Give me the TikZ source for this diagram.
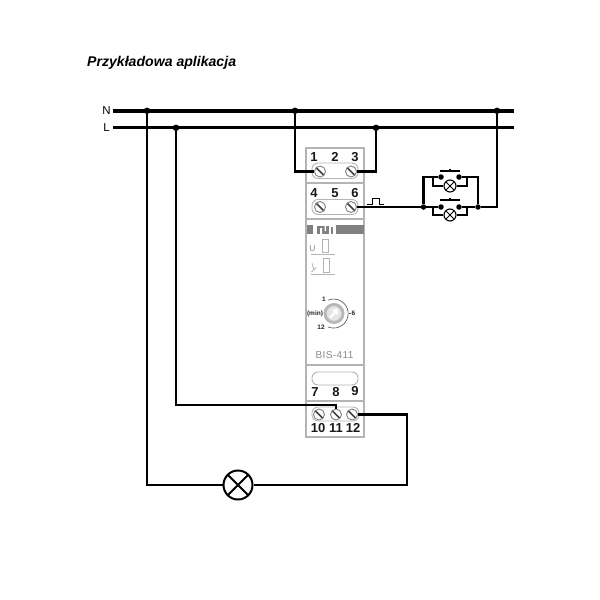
\documentclass[tikz,border=0pt]{standalone}
\usepackage{fontspec}
\setmainfont{Liberation Sans}
\definecolor{devgray}{HTML}{B4B4B4}
\definecolor{bargray}{HTML}{808080}
\definecolor{txtgray}{HTML}{8A8A8A}
\tikzset{
  wire/.style={line width=2.1pt,black},
  thin wire/.style={line width=1.2pt,black},
  dot/.style={circle,fill=black,inner sep=0pt,minimum size=6.5pt},
  sdot/.style={circle,fill=black,inner sep=0pt,minimum size=5.5pt},
  devline/.style={draw=devgray,line width=1.1pt},
  cover/.style={draw=devgray,line width=.9pt,rounded corners=6pt},
  num/.style={font=\bfseries\fontsize{13}{14}\selectfont,inner sep=0pt,text=black!90},
  screw/.style={circle,draw=bargray,fill=white,line width=.9pt,inner sep=0pt,minimum size=11pt,
    path picture={\draw[black!75,line width=1.5pt] ([shift={(-3.8pt,3.8pt)}]path picture bounding box.center) -- ([shift={(3.8pt,-3.8pt)}]path picture bounding box.center);}},
  lamp/.style={circle,draw=black,fill=white,inner sep=0pt,
    path picture={\draw[black,line width=\pgfkeysvalueof{/tikz/lampx}]
      (path picture bounding box.north west) -- (path picture bounding box.south east)
      (path picture bounding box.north east) -- (path picture bounding box.south west);}},
  lampx/.initial=1pt,
  biglamp/.style={lamp,lampx=2pt,line width=2pt,minimum size=29pt},
  minilamp/.style={lamp,lampx=1pt,line width=1.1pt,minimum size=12pt},
  gtxt/.style={text=txtgray,inner sep=0pt},
  dial/.style={font=\bfseries\fontsize{6.5}{7}\selectfont,inner sep=0pt,text=black!85},
}
\begin{document}
\begin{tikzpicture}[x=1pt,y=-1pt]
\useasboundingbox (0,0) rectangle (600,600);
\fill[white] (0,0) rectangle (600,600);

% title and bus labels
\node[anchor=west,inner sep=0pt,font=\bfseries\itshape\fontsize{14.1}{15}\selectfont] (title) at (87,62.5) {Przykładowa aplikacja};
\node[inner sep=0pt,font=\fontsize{11.5}{12}\selectfont] (labN) at (106.5,110.5) {N};
\node[inner sep=0pt,font=\fontsize{11.5}{12}\selectfont] (labL) at (106.5,128) {L};

% device body
\draw[devline] (306,148) rectangle (364,437);
\foreach \yy in {183,219,365,401} \draw[devline] (306,\yy) -- (364,\yy);
\draw[cover] (312,163) rectangle (358,178.5);
\draw[cover] (312,199.5) rectangle (358,214.5);
\draw[cover] (312,372) rectangle (358,385);
\draw[cover] (312,407) rectangle (359,421);

% grey bar with logo
\fill[bargray] (306.5,225) rectangle (312.5,234);
\fill[bargray] (317,226) rectangle (329,234);
\fill[white] (320,228) rectangle (322,234) (324.5,226) rectangle (326,231);
\fill[bargray] (331,227) rectangle (333,234);
\fill[bargray] (336,225) rectangle (363.5,234);

% indicators
\node[gtxt,font=\fontsize{8.5}{9}\selectfont] (labU) at (312.5,249) {U};
\draw[devgray,line width=.8pt] (322.5,239) rectangle (328.5,252);
\draw[devgray,line width=1pt] (311,254.5) -- (335,254.5);
\draw[devgray,line width=.8pt] (323,258) rectangle (329.5,272);
\draw[devgray,line width=.8pt] (312,263) -- (313.5,269) (311.5,272) -- (316,267.5);
\draw[devgray,line width=1pt] (311,274.5) -- (335,274.5);

% dial
\node[circle,draw=black!28,fill=black!10,line width=3pt,inner sep=0pt,minimum size=18pt] (knob) at (334,313.5) {};
\fill[white] (332,309.5) -- (338,309) -- (337.5,315) -- (335.5,313.5) -- (331,318) -- (329.5,316.5) -- (334,312) -- cycle;
\draw[black!70,line width=.6pt] (328,300.2) arc[start angle=-113,end angle=113,radius=14.5];
\node[dial] (d1) at (324,299) {1};
\node[dial] (d6) at (353.5,313.5) {6};
\node[dial] (d12) at (321,327.5) {12};
\node[dial] (dmin) at (315,313.5) {(min)};
\draw[black!70,line width=.6pt] (348.5,313.5) -- (351,313.5);
\node[gtxt,font=\fontsize{10}{11}\selectfont] (model) at (334.5,355) {\addfontfeature{LetterSpace=4}BIS-411};

% numbers
\node[num] (n1) at (314,157) {1};
\node[num] (n2) at (335,157) {2};
\node[num] (n3) at (355,157) {3};
\node[num] (n4) at (314,193) {4};
\node[num] (n5) at (335,193) {5};
\node[num] (n6) at (355,193) {6};
\node[num] (n7) at (315,392) {7};
\node[num] (n8) at (336,392) {8};
\node[num] (n9) at (355,391) {9};
\node[num] (n10) at (318,428) {10};
\node[num] (n11) at (336,428) {11};
\node[num] (n12) at (353,428) {12};

% screws
\node[screw] (s1) at (320,171.5) {};
\node[screw] (s3) at (351,171.5) {};
\node[screw] (s4) at (320,207) {};
\node[screw] (s6) at (351,207) {};
\node[screw] (s10) at (319,414.5) {};
\node[screw] (s11) at (336,414.5) {};
\node[screw] (s12) at (352,414.5) {};

% bus
\coordinate (Na) at (113,110.8);
\coordinate (Nb) at (514,110.8);
\coordinate (La) at (113,127.8);
\coordinate (Lb) at (514,127.8);
\draw[black,line width=3.4pt] (Na) -- (Nb);
\draw[black,line width=2.7pt] (La) -- (Lb);
\node[dot] (j1) at (147,110.8) {};
\node[dot] (j2) at (176,127.8) {};
\node[dot] (j3) at (295,110.8) {};
\node[dot] (j4) at (376,127.8) {};
\node[dot] (j5) at (497,110.8) {};

% load lamp and wiring
\node[biglamp] (big) at (238,485) {};
\draw[wire] (j1) |- (big);
\draw[wire] (big) -- (407,485) |- (s12);
\draw[wire] (j2) |- (336,405) -- (s11);
\draw[wire] (j3) |- (s1);
\draw[wire] (j4) |- (s3);

% pushbutton pair
\node[sdot] (bl) at (423.5,207) {};
\node[sdot] (br) at (478,207) {};
\node[sdot] (a1) at (441,177) {};
\node[sdot] (a2) at (459,177) {};
\node[sdot] (b1) at (441,207) {};
\node[sdot] (b2) at (459,207) {};
\node[minilamp] (la) at (450,186) {};
\node[minilamp] (lb) at (450,215) {};
\coordinate (tl) at (423.5,177);
\coordinate (tr) at (478,177);
\draw[wire] (s6) -- (bl);
\draw[wire] (bl) -- (tl) -- (a1);
\draw[wire] (a2) -- (tr) -- (br);
\draw[wire] (bl) -- (b1);
\draw[wire] (b2) -- (br) -- (497,207) -- (j5);
\draw[thin wire] (433,177) |- (la);
\draw[thin wire] (la) -- (467,186) -- (467,177);
\draw[thin wire] (433,207) |- (lb);
\draw[thin wire] (lb) -- (467,215) -- (467,207);
\draw[thin wire] (440,171) -- (459.5,171) (450,168.5) -- (450,171);
\draw[thin wire] (440,200) -- (459.5,200) (450,197.5) -- (450,200);

% pulse symbol
\draw[black,line width=.8pt] (367,204) -- (372,204) -- (372,198) -- (379,198) -- (379,204) -- (384,204);
\end{tikzpicture}
\end{document}
